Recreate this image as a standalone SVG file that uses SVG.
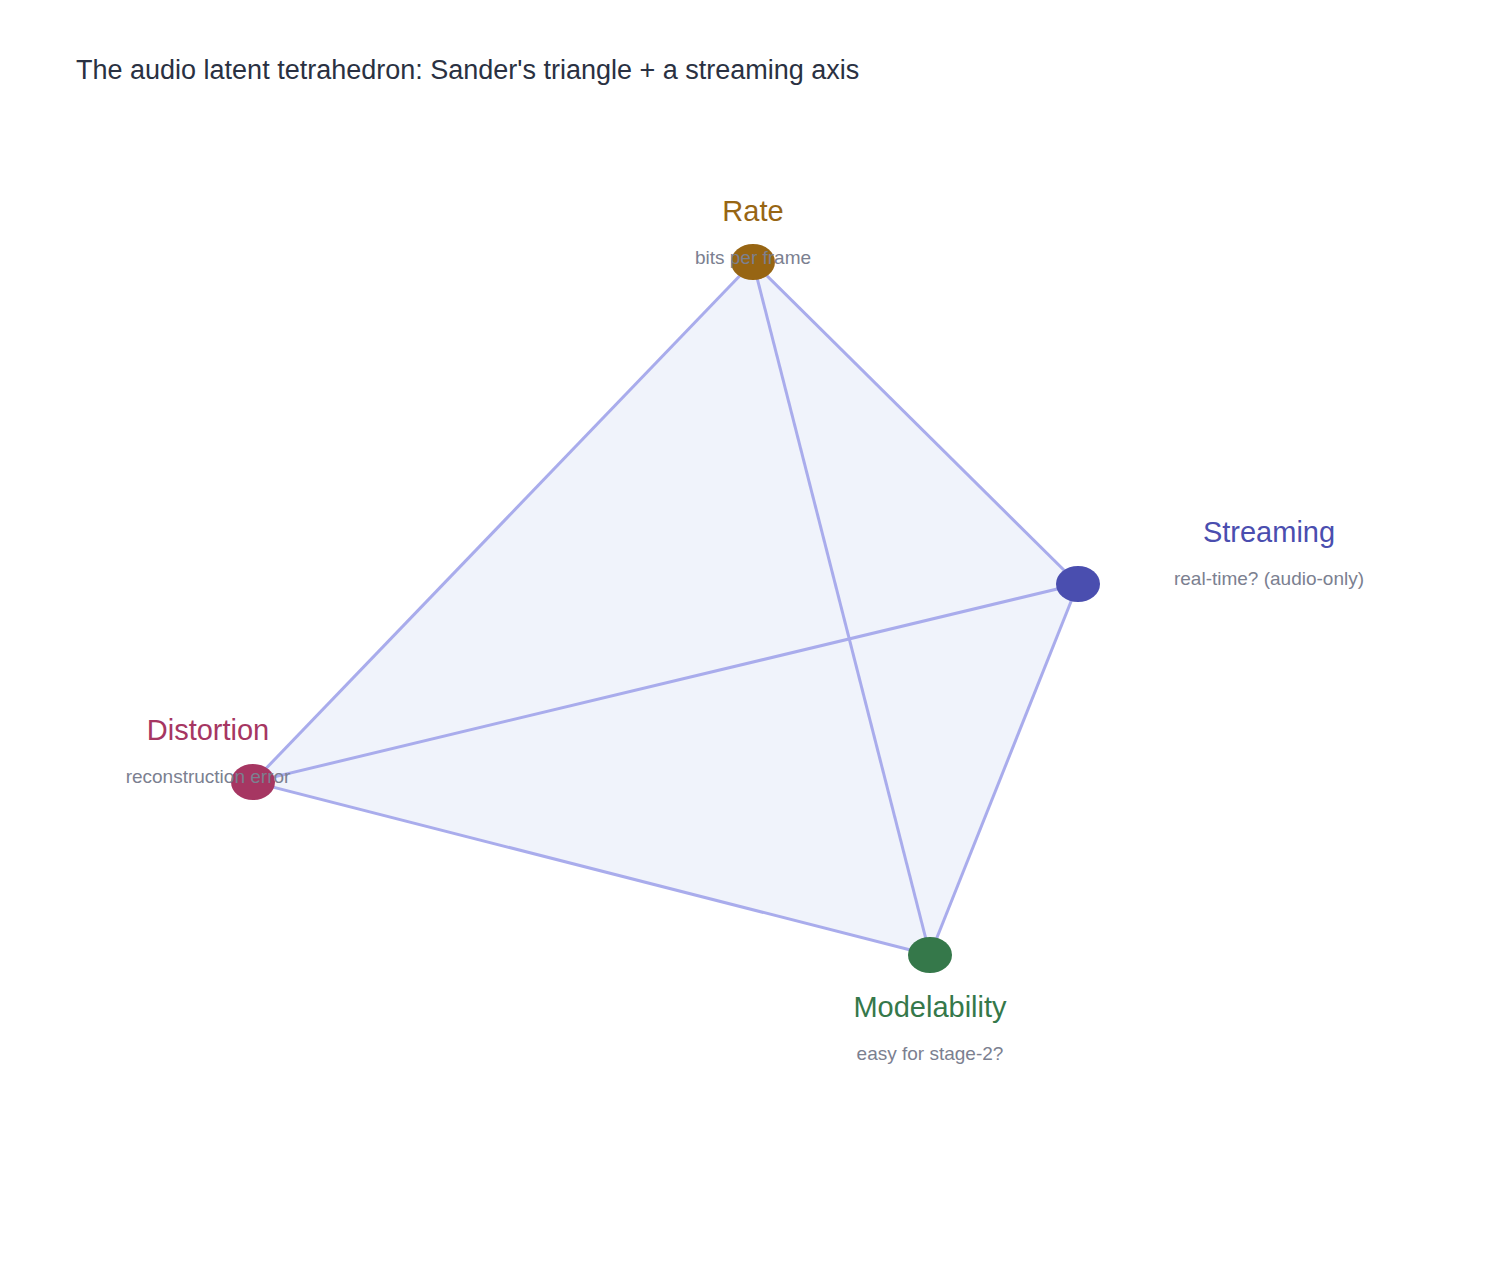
<svg xmlns="http://www.w3.org/2000/svg" width="1507" height="1269" viewBox="0 0 1507 1269">
<style>
.e{stroke:#a9acec;stroke-width:3;fill:none}
.t{font-family:"Liberation Sans",Arial,sans-serif;text-anchor:middle}
.l{font-size:29px}
.s{font-size:19px;fill:#7b8090}
</style>
<rect width="1507" height="1269" fill="#fff"/>
<text x="76" y="79" font-family="Liberation Sans,Arial,sans-serif" font-size="27" fill="#2a3142">The audio latent tetrahedron: Sander's triangle + a streaming axis</text>
<polygon points="753,262 1078,584 930,955 253,782" fill="#f0f3fb"/>
<g id="connectors">
<line class="e" x1="753" y1="262" x2="1078" y2="584"/>
<line class="e" x1="753" y1="262" x2="930" y2="955"/>
<line class="e" x1="753" y1="262" x2="253" y2="782"/>
<line class="e" x1="1078" y1="584" x2="930" y2="955"/>
<line class="e" x1="1078" y1="584" x2="253" y2="782"/>
<line class="e" x1="253" y1="782" x2="930" y2="955"/>
</g>
<g id="rate"><ellipse cx="753" cy="262" rx="22" ry="18" fill="#976513"/>
<text class="t l" x="753" y="221" fill="#976513">Rate</text><text class="t s" x="753" y="264">bits per frame</text></g>
<g id="streaming"><ellipse cx="1078" cy="584" rx="22" ry="18" fill="#4a4eaf"/>
<text class="t l" x="1269" y="542" fill="#4a4eaf">Streaming</text><text class="t s" x="1269" y="585">real-time? (audio-only)</text></g>
<g id="distortion"><ellipse cx="253" cy="782" rx="22" ry="18" fill="#a63662"/>
<text class="t l" x="208" y="740" fill="#a63662">Distortion</text><text class="t s" x="208" y="783">reconstruction error</text></g>
<g id="modelability"><ellipse cx="930" cy="955" rx="22" ry="18" fill="#35784a"/>
<text class="t l" x="930" y="1017" fill="#35784a">Modelability</text><text class="t s" x="930" y="1060">easy for stage-2?</text></g>
</svg>
